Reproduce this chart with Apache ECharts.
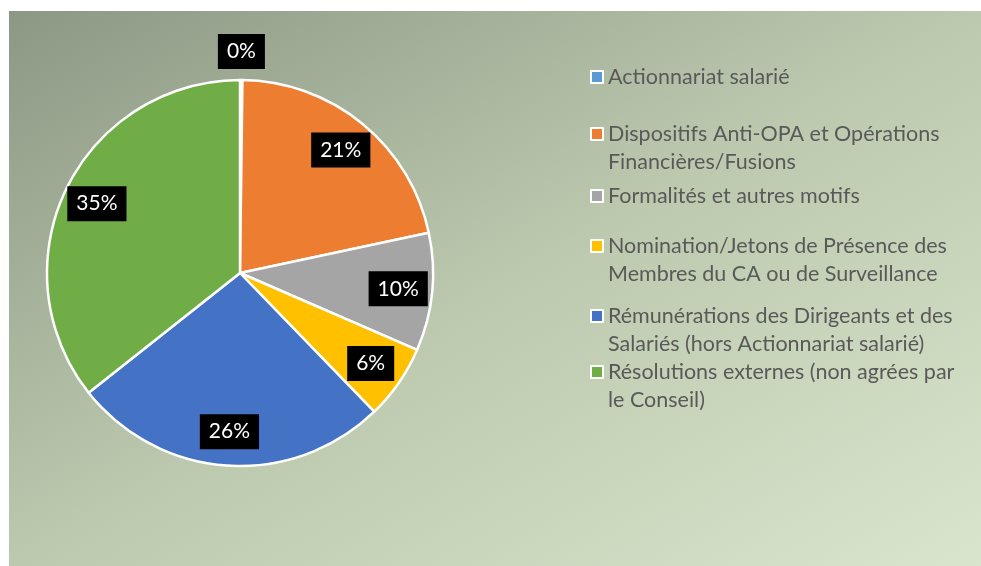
<!DOCTYPE html>
<html>
<head>
<meta charset="utf-8">
<script src="https://cdn.jsdelivr.net/npm/echarts@6/dist/echarts.min.js"></script>
<style>
  body { margin: 0; background: #fff; }
  #main {
    position: absolute; left: 9px; top: 11px; width: 972px; height: 555px;
    background: linear-gradient(to bottom right, #8c9884 0%, #bcc9af 50%, #d9e5cc 100%);
  }
</style>
</head>
<body>
<div id="main"></div>
<script>
// categories (with line breaks as in the legend)
var categories = [
  'Actionnariat salarié',
  'Dispositifs Anti-OPA et Opérations\nFinancières/Fusions',
  'Formalités et autres motifs',
  'Nomination/Jetons de Présence des\nMembres du CA ou de Surveillance',
  'Rémunérations des Dirigeants et des\nSalariés (hors Actionnariat salarié)',
  'Résolutions externes (non agrées par\nle Conseil)'
];
// share in %
var values = [0.2, 21.3, 9.8, 6.2, 26.4, 35.4];
var colors = ['#5B9BD5', '#ED7D31', '#A5A5A5', '#FFC000', '#4472C4', '#70AD47'];

// legend rows (top of each legend block)
var legendTops = [52, 81, 171, 193, 263, 319];

var myChart = echarts.init(document.getElementById('main'));

var pieData = categories.map(function (c, i) {
  return { name: c, value: values[i] };
});

var legends = categories.map(function (c, i) {
  return {
    orient: 'vertical',
    left: 581,
    top: legendTops[i],
    padding: 0,
    itemWidth: 12,
    itemHeight: 12,
    itemGap: 0,
    icon: 'rect',
    selectedMode: false,
    data: [c],
    // empty first line so the marker sits on the first text line
    formatter: function (name) {
      return name.indexOf('\n') >= 0 ? '\n' + name : name;
    },
    textStyle: {
      color: '#595959',
      fontFamily: 'Lato',
      fontSize: 21.5,
      lineHeight: 28
    }
  };
});

var labelStyle = {
  show: true,
  position: 'inside',
  color: '#fff',
  fontFamily: 'Lato',
  fontSize: 21,
  backgroundColor: '#000',
  padding: [7, 9],
  formatter: function (p) { return Math.round(p.value) + '%'; }
};

myChart.setOption({
  color: colors,
  legend: legends,
  series: [
    {
      type: 'pie',
      center: [231, 262],
      radius: 193,
      startAngle: 90,
      silent: true,
      label: { show: false },
      labelLine: { show: false },
      itemStyle: { borderColor: '#fff', borderWidth: 2.5 },
      data: pieData
    },
    {
      // labels of the slices, drawn at ~0.8 of the radius
      type: 'pie',
      center: [231, 262],
      radius: [121, 191],
      startAngle: 90,
      silent: true,
      itemStyle: { color: 'transparent' },
      label: labelStyle,
      labelLine: { show: false },
      data: pieData.map(function (d, i) {
        return i === 0 ? { name: d.name, value: d.value, label: { show: false } } : d;
      })
    },
    {
      // label of the empty slice, outside the pie
      type: 'pie',
      center: [231, 262],
      radius: [209, 228],
      startAngle: 90,
      silent: true,
      itemStyle: { color: 'transparent' },
      label: labelStyle,
      labelLine: { show: false },
      data: pieData.map(function (d, i) {
        return i === 0 ? d : { name: d.name, value: d.value, label: { show: false } };
      })
    }
  ]
});
</script>
</body>
</html>
